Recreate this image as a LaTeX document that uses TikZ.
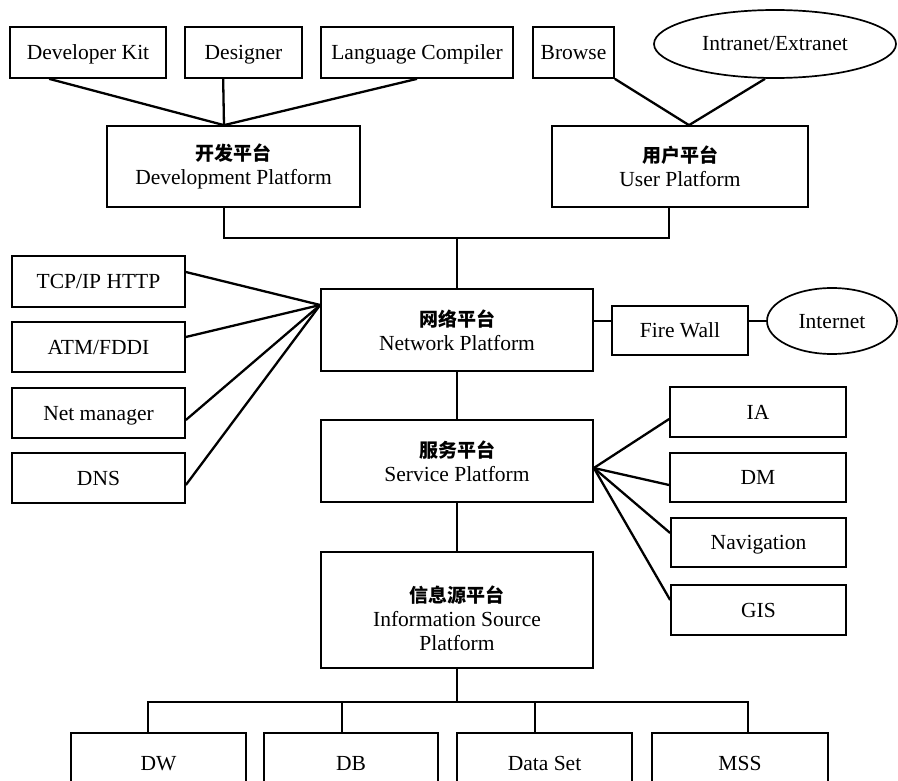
\documentclass[tikz,border=0pt]{standalone}
\usepackage{fontspec}
\setmainfont{Liberation Serif}
\newfontfamily\cjk{Noto Sans CJK SC}
\usetikzlibrary{shapes.geometric,calc}
\tikzset{
  box/.style={draw, line width=1.7pt, rectangle, inner sep=0pt, align=center, font=\fontsize{21.5}{24}\selectfont},
  leaf/.style={box, text height=14pt, text depth=0pt},
  oval/.style={draw, line width=1.7pt, ellipse, inner sep=0pt, text height=14pt, text depth=0pt, font=\fontsize{21.5}{24}\selectfont},
  link/.style={line width=2.3pt},
  tree/.style={line width=1.7pt},
}
\newcommand\zhtext[1]{{\cjk\bfseries\fontsize{19}{24}\selectfont #1}}
\begin{document}
\begin{tikzpicture}[x=1pt,y=-1pt]
\useasboundingbox (0,0) rectangle (898,781);
\clip (0,0) rectangle (898,781);
% top row
\node[leaf, minimum width=156pt, minimum height=51pt] (dk) at (88,52.5) {Developer Kit};
\node[leaf, minimum width=117pt, minimum height=51pt] (des) at (243.5,52.5) {Designer};
\node[leaf, minimum width=192pt, minimum height=51pt] (lc) at (417,52.5) {Language Compiler};
\node[leaf, minimum width=81pt, minimum height=51pt] (br) at (573.5,52.5) {Browse};
\node[oval, minimum width=242pt, minimum height=68pt] (ie) at (775,44) {Intranet/Extranet};
% platforms
\node[box, minimum width=253pt, minimum height=81pt] (devP) at (233.5,166.5) {\zhtext{开发平台}\\Development Platform};
\node[box, minimum width=256pt, minimum height=81pt] (userP) at (680,166.5) {\zhtext{用户平台}\\User Platform};
\node[box, minimum width=272pt, minimum height=82pt] (net) at (457,330) {\zhtext{网络平台}\\Network Platform};
\node[box, minimum width=272pt, minimum height=82pt] (svc) at (457,461) {\zhtext{服务平台}\\Service Platform};
\node[box, minimum width=272pt, minimum height=116pt] (info) at (457,610) {\rule{0pt}{33pt}\zhtext{信息源平台}\\Information Source\\Platform};
% left column
\node[leaf, minimum width=173pt, minimum height=51pt] (tcp) at (98.5,281.5) {TCP/IP HTTP};
\node[leaf, minimum width=173pt, minimum height=50pt] (atm) at (98.5,347) {ATM/FDDI};
\node[leaf, minimum width=173pt, minimum height=50pt] (nm) at (98.5,413) {Net manager};
\node[leaf, minimum width=173pt, minimum height=50pt] (dns) at (98.5,478) {DNS};
% firewall / internet
\node[leaf, minimum width=136pt, minimum height=49pt] (fw) at (680,330.5) {Fire Wall};
\node[oval, minimum width=130pt, minimum height=66pt] (inet) at (832,321) {Internet};
% right column
\node[leaf, minimum width=176pt, minimum height=50pt] (ia) at (758,412) {IA};
\node[leaf, minimum width=176pt, minimum height=49pt] (dm) at (758,477.5) {DM};
\node[leaf, minimum width=175pt, minimum height=49pt] (nav) at (758.5,542.5) {Navigation};
\node[leaf, minimum width=175pt, minimum height=50pt] (gis) at (758.5,610) {GIS};
% bottom row
\node[leaf, minimum width=175pt, minimum height=60pt] (dw) at (158.5,763) {DW};
\node[leaf, minimum width=174pt, minimum height=60pt] (db) at (351,763) {DB};
\node[leaf, minimum width=175pt, minimum height=60pt] (ds) at (544.5,763) {Data Set};
\node[leaf, minimum width=176pt, minimum height=60pt] (mss) at (740,763) {MSS};
% junction coordinates
\coordinate (dv) at ([xshift=-9.5pt]devP.north);
\coordinate (uv) at ([xshift=9pt]userP.north);
\coordinate (nf) at ([yshift=25pt]net.west);
\coordinate (sf) at ([yshift=-7pt]svc.east);
\coordinate (bus1) at (457,238);
\coordinate (bus2) at (457,702);
% fans to development platform
\draw[link] ([xshift=40pt]dk.south west) -- (dv);
\draw[link] ([xshift=39pt]des.south west) -- (dv);
\draw[link] (lc.south) -- (dv);
% fans to user platform
\draw[link] (br.south east) -- (uv);
\draw[link] ([xshift=-10pt]ie.south) -- (uv);
% bus between platforms
\draw[tree] (dv |- devP.south) |- (bus1) -| ([xshift=-11pt]userP.south);
\draw[tree] (bus1) -- (net.north);
% fans to network platform
\draw[link] ([yshift=9.5pt]tcp.east) -- (nf);
\draw[link] ([yshift=10pt]atm.east) -- (nf);
\draw[link] ([yshift=-7pt]nm.east) -- (nf);
\draw[link] ([yshift=-7pt]dns.east) -- (nf);
% firewall chain
\draw[tree] (net.east |- inet.west) -- (fw.west |- inet.west);
\draw[tree] (fw.east |- inet.west) -- (inet.west);
% vertical chain
\draw[tree] (net.south) -- (svc.north);
\draw[tree] (svc.south) -- (info.north);
% fans from service platform
\draw[link] (sf) -- ([yshift=-7pt]ia.west);
\draw[link] (sf) -- ([yshift=-7.5pt]dm.west);
\draw[link] (sf) -- ([yshift=9.5pt]nav.west);
\draw[link] (sf) -- ([yshift=10pt]gis.west);
% bottom tree
\draw[tree] (info.south) -- (bus2);
\draw[tree] ([xshift=-10.5pt]dw.north) |- (bus2) -| ([xshift=8pt]mss.north);
\draw[tree] ([xshift=-9pt]db.north) -- ([xshift=-9pt]db.north |- bus2);
\draw[tree] ([xshift=-9.5pt]ds.north) -- ([xshift=-9.5pt]ds.north |- bus2);
\end{tikzpicture}
\end{document}
